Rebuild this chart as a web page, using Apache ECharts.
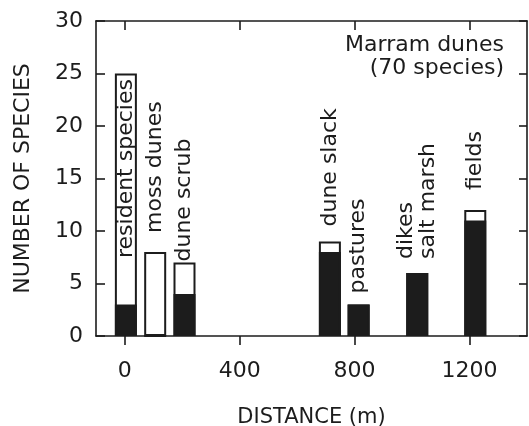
<!DOCTYPE html>
<html>
<head>
<meta charset="utf-8">
<script src="https://cdn.jsdelivr.net/npm/echarts@6/dist/echarts.min.js"></script>
<style>
html,body{margin:0;padding:0;background:#fff;}
#chart{width:529px;height:426px;}
</style>
</head>
<body>
<div id="chart"></div>
<script>
// ---- data ----
const habitats = ['resident species', 'moss dunes', 'dune scrub', 'dune slack', 'pastures', 'dikes\nsalt marsh', 'fields'];
const distance = [4, 106, 208, 714, 814, 1018, 1220];
const totalSpecies = [25, 8, 7, 9, 3, 6, 12];
const residentPart = [3, 0, 4, 8, 3, 6, 11];
const xTickValues = [0, 400, 800, 1200];
const annotation = 'Marram dunes\n(70 species)';

// ---- layout (label lift above each bar, in px) ----
const labelLift = [78, 19, 1, 15, 11, 14, 20];

const FONT = 'DejaVu Sans';
const INK = '#1c1c1c';

const chart = echarts.init(document.getElementById('chart'), null, {renderer: 'canvas'});

const axisLineStyle = {color: INK, width: 1.6};

const option = {
  animation: false,
  backgroundColor: '#fff',
  grid: {left: 96, right: 2, top: 21, bottom: 90, containLabel: false, outerBoundsMode: 'none'},
  xAxis: [
    {
      type: 'value', position: 'bottom', min: -100, max: 1400,
      name: 'DISTANCE (m)', nameLocation: 'middle', nameGap: 71,
      nameTextStyle: {fontFamily: FONT, fontSize: 21, color: INK},
      axisLine: {show: true, onZero: false, lineStyle: axisLineStyle},
      axisTick: {show: true, inside: false, length: 9, lineStyle: axisLineStyle, customValues: xTickValues},
      axisLabel: {show: true, margin: 24, fontFamily: FONT, fontSize: 22, color: INK, customValues: xTickValues,
                  formatter: v => String(v)},
      splitLine: {show: false}
    },
    {
      type: 'value', position: 'top', min: -100, max: 1400,
      axisLine: {show: true, onZero: false, lineStyle: axisLineStyle},
      axisTick: {show: true, inside: true, length: 9, lineStyle: axisLineStyle, customValues: xTickValues},
      axisLabel: {show: false},
      splitLine: {show: false}
    }
  ],
  yAxis: [
    {
      type: 'value', position: 'left', min: 0, max: 30, interval: 5,
      name: 'NUMBER OF SPECIES', nameLocation: 'middle', nameGap: 62,
      nameTextStyle: {fontFamily: FONT, fontSize: 22, color: INK},
      axisLine: {show: true, onZero: false, lineStyle: axisLineStyle},
      axisTick: {show: true, inside: true, length: 9, lineStyle: axisLineStyle},
      axisLabel: {show: true, margin: 13, fontFamily: FONT, fontSize: 22, color: INK},
      splitLine: {show: false}
    },
    {
      type: 'value', position: 'right', min: 0, max: 30, interval: 5,
      axisLine: {show: true, onZero: false, lineStyle: axisLineStyle},
      axisTick: {show: true, inside: true, length: 8, lineStyle: axisLineStyle},
      axisLabel: {show: false},
      splitLine: {show: false}
    }
  ],
  graphic: [
    {
      type: 'text', x: 504, y: 34,
      style: {text: annotation, align: 'right', verticalAlign: 'top', font: '22px "DejaVu Sans"', fill: INK, lineHeight: 23}
    }
  ],
  series: [
    {
      name: 'total', type: 'bar', barWidth: 22, barGap: '-100%',
      itemStyle: {color: '#ffffff', borderColor: INK, borderWidth: 2},
      label: {
        show: true, position: 'top', rotate: 90, align: 'left', verticalAlign: 'middle',
        fontFamily: FONT, fontSize: 22, color: INK, lineHeight: 22,
        formatter: p => habitats[p.dataIndex]
      },
      data: distance.map((d, i) => ({
        value: [d, totalSpecies[i]],
        label: i === 0 ? {position: 'insideBottom', distance: labelLift[i]} : {distance: labelLift[i]}
      }))
    },
    {
      name: 'black', type: 'bar', barWidth: 22, barGap: '-100%',
      itemStyle: {color: '#1c1c1c', borderColor: INK, borderWidth: 2},
      data: distance.map((d, i) => [d, residentPart[i]])
    }
  ]
};
chart.setOption(option);
</script>
</body>
</html>
